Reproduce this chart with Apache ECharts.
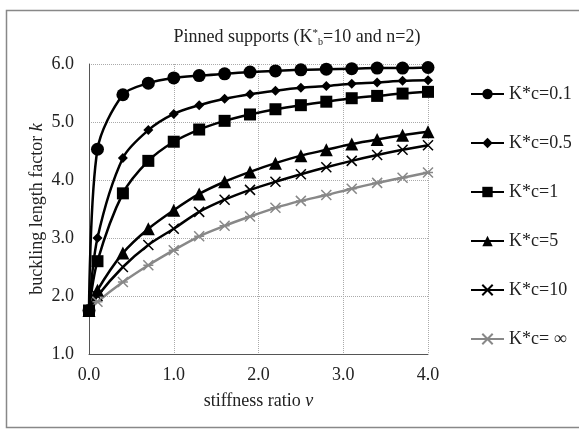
<!DOCTYPE html>
<html><head><meta charset="utf-8">
<script src="https://cdn.jsdelivr.net/npm/echarts@6/dist/echarts.min.js"></script>
<style>html,body{margin:0;padding:0;background:#fff}#c{width:579px;height:430px}</style>
</head><body><div id="c"></div>
<script>
const xVals = [0, 0.1, 0.4, 0.7, 1.0, 1.3, 1.6, 1.9, 2.2, 2.5, 2.8, 3.1, 3.4, 3.7, 4.0];
const seriesNames = ['K*c=0.1', 'K*c=0.5', 'K*c=1', 'K*c=5', 'K*c=10', 'K*c= ∞'];
const kc01  = [1.75, 4.53, 5.47, 5.67, 5.76, 5.80, 5.83, 5.86, 5.88, 5.90, 5.91, 5.92, 5.93, 5.93, 5.94];
const kc05  = [1.75, 3.00, 4.38, 4.86, 5.14, 5.29, 5.40, 5.48, 5.54, 5.59, 5.62, 5.66, 5.68, 5.71, 5.72];
const kc1   = [1.75, 2.60, 3.77, 4.33, 4.66, 4.87, 5.02, 5.13, 5.22, 5.29, 5.35, 5.41, 5.45, 5.49, 5.52];
const kc5   = [1.75, 2.10, 2.74, 3.16, 3.48, 3.76, 3.97, 4.14, 4.29, 4.42, 4.52, 4.62, 4.70, 4.77, 4.83];
const kc10  = [1.75, 2.00, 2.50, 2.88, 3.16, 3.45, 3.66, 3.83, 3.97, 4.10, 4.22, 4.33, 4.43, 4.52, 4.60];
const kcInf = [1.75, 1.90, 2.24, 2.53, 2.79, 3.03, 3.21, 3.37, 3.52, 3.64, 3.74, 3.85, 3.95, 4.04, 4.13];
const yTicks = ['1.0', '2.0', '3.0', '4.0', '5.0', '6.0'];
const xTicks = ['0.0', '1.0', '2.0', '3.0', '4.0'];

const allData = [kc01, kc05, kc1, kc5, kc10, kcInf];
const symbols = [
  'circle', 'diamond', 'rect', 'triangle',
  'path://M0,0L10,10M10,0L0,10M5,0L5,0',
  'path://M0,0L10,10M10,0L0,10M0,5L10,5'
];
const sizes = [13, 10, 12, 13, 10, 10];
const colors = ['#000', '#000', '#000', '#000', '#000', '#888'];
const font = 'Liberation Serif';
const fs = 18;
const txt = '#222';

const chart = echarts.init(document.getElementById('c'), null, {renderer: 'canvas'});
chart.setOption({
  animation: false,
  backgroundColor: '#fff',
  graphic: [{
    type: 'rect', left: 4, top: 8, shape: {width: 574, height: 417},
    style: {fill: 'none', stroke: '#888', lineWidth: 1.5}, silent: true
  }],
  title: {
    text: 'Pinned supports (K{sup|*}{sub|b}=10 and n=2)',
    left: 292, top: 23, textAlign: 'center',
    textStyle: {
      fontFamily: font, fontSize: fs, fontWeight: 'normal', color: txt,
      rich: {
        sup: {fontFamily: font, fontSize: 11, color: txt, verticalAlign: 'top', padding: [0, 0, 8, 0]},
        sub: {fontFamily: font, fontSize: 10, color: txt, verticalAlign: 'bottom', padding: [8, 0, 0, 0]}
      }
    }
  },
  grid: {left: 89, right: 151, top: 64, bottom: 76, containLabel: false},
  legend: {
    orient: 'vertical', left: 465, top: 80, itemGap: 31,
    itemWidth: 33, itemHeight: 13,
    data: seriesNames,
    textStyle: {fontFamily: font, fontSize: fs, color: txt}
  },
  xAxis: {
    type: 'value', min: 0, max: 4, interval: 1,
    name: 'stiffness ratio {i|v}', nameLocation: 'middle', nameGap: 38,
    nameMoveOverlap: false,
    nameTextStyle: {fontFamily: font, fontSize: fs, color: txt,
      rich: {i: {fontFamily: font, fontSize: fs, fontStyle: 'italic', color: txt}}},
    axisLine: {show: true, lineStyle: {color: '#555', width: 1}},
    axisTick: {show: false},
    axisLabel: {fontFamily: font, fontSize: fs, color: txt, margin: 12,
      formatter: (v) => xTicks[Math.round(v)]},
    splitLine: {show: true, lineStyle: {color: '#aaa', type: 'dotted', width: 1}}
  },
  yAxis: {
    type: 'value', min: 1, max: 6, interval: 1,
    name: 'buckling length factor {i|k}', nameLocation: 'middle', nameGap: 43,
    nameMoveOverlap: false,
    nameTextStyle: {fontFamily: font, fontSize: fs, color: txt,
      rich: {i: {fontFamily: font, fontSize: fs, fontStyle: 'italic', color: txt}}},
    axisLine: {show: true, lineStyle: {color: '#555', width: 1}},
    axisTick: {show: false},
    axisLabel: {fontFamily: font, fontSize: fs, color: txt, margin: 15,
      formatter: (v) => yTicks[Math.round(v) - 1]},
    splitLine: {show: true, lineStyle: {color: '#aaa', type: 'dotted', width: 1}}
  },
  series: allData.map((d, i) => ({
    name: seriesNames[i],
    type: 'line',
    smooth: 0.3,
    data: d.map((y, j) => [xVals[j], y]),
    symbol: symbols[i],
    symbolSize: sizes[i],
    showAllSymbol: true,
    z: i === 2 ? 4 : 2,
    lineStyle: {color: colors[i], width: 2.5},
    itemStyle: {color: colors[i], borderColor: colors[i], borderWidth: i >= 4 ? 1.5 : 0}
  }))
});
</script></body></html>
